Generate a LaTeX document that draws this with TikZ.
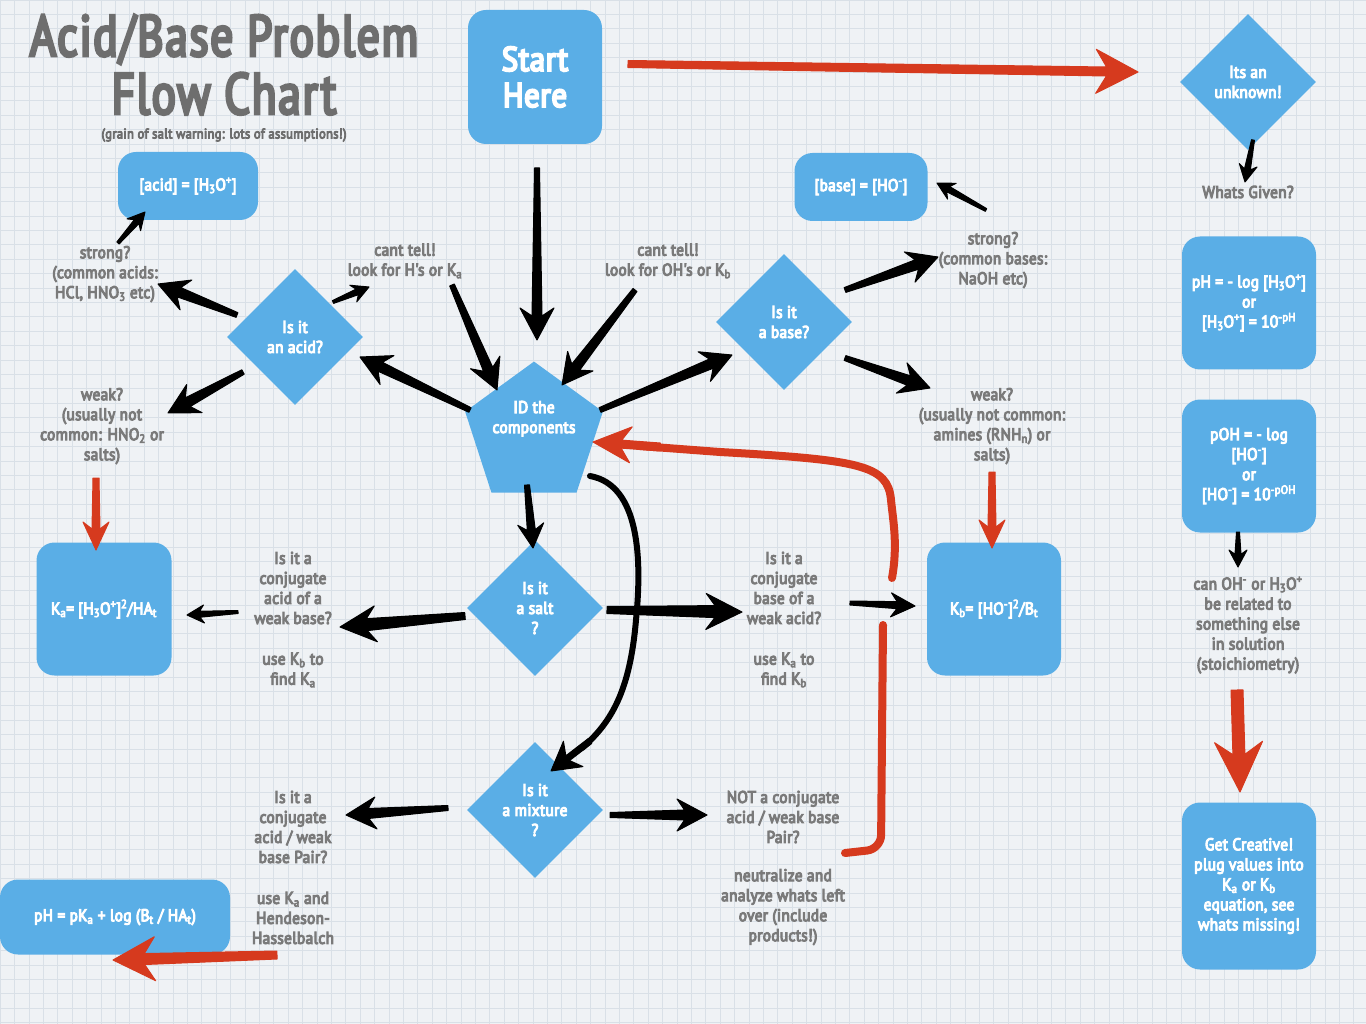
\documentclass[tikz,border=0pt]{standalone}
\usepackage{fontspec}
\setmainfont{PT Sans}[FakeStretch=0.92]
\newfontfamily\lblfont{PT Sans}[FakeStretch=0.9, FakeBold=6, LetterSpace=2]
\newfontfamily\titlefont{PT Sans}[FakeStretch=0.78, FakeBold=5, LetterSpace=3]
\usetikzlibrary{shapes.geometric,calc}
\definecolor{boxblue}{HTML}{5AAEE6}
\definecolor{txtgray}{HTML}{7A7A7A}
\definecolor{titlegray}{HTML}{6E6E6E}
\definecolor{arrred}{HTML}{D63A1E}
\definecolor{paper}{HTML}{EFF2F5}
\definecolor{gridc}{HTML}{D9E0E7}
\newcommand\tsub[1]{\textsubscript{#1}}
\newcommand\tsup[1]{\textsuperscript{#1}}
% tapered arrow: [colour]{from}{to}{tail half-width}{shaft half-width}{head length}{head half-width}
\newcommand\taper[7][black]{%
  \path #2 coordinate (tA) #3 coordinate (tB);
  \pgfpointdiff{\pgfpointanchor{tA}{center}}{\pgfpointanchor{tB}{center}}%
  \pgfgetlastxy\tdx\tdy
  \pgfmathsetmacro\tang{atan2(\tdy,\tdx)}%
  \pgfmathsetmacro\tlen{veclen(\tdx,\tdy)}%
  \begin{scope}[shift={(tA)}, rotate=\tang, x=1pt, y=1pt]
    \filldraw[#1, line width=1pt, line join=round] (0,-#4) -- (\tlen-0.75*#6,-#5) -- (\tlen-#6,-#7) -- (\tlen,0)
      -- (\tlen-#6,#7) -- (\tlen-0.75*#6,#5) -- (0,#4) -- cycle;
  \end{scope}}
\newcommand\bigarr[2]{\taper{#1}{#2}{2.5}{5}{30}{16}}
\newcommand\smallarr[2]{\taper{#1}{#2}{1.5}{3}{17}{9}}
\tikzset{
  box/.style={fill=boxblue, rounded corners=18pt, text=white, align=center, inner sep=0pt,
    font=\lblfont\fontsize{17}{20}\selectfont},
  dia/.style={diamond, aspect=1, fill=boxblue, minimum width=136pt, minimum height=136pt, inner sep=0pt,
    text=white, align=center, font=\lblfont\fontsize{17}{20}\selectfont},
  lbl/.style={text=txtgray, align=center, inner sep=0pt, font=\lblfont\fontsize{17}{20}\selectfont},
  redline/.style={draw=arrred, line width=8pt, line cap=round},
  ttl/.style={text=titlegray, inner sep=0pt, text depth=0pt, font=\titlefont\fontsize{58}{60}\selectfont},
}
\begin{document}
\begin{tikzpicture}[x=1pt, y=-1pt]
\useasboundingbox (0,0) rectangle (1366,1024);
\fill[paper] (0,0) rectangle (1366,1024);
\foreach \i in {0,...,95} \draw[gridc, line width=0.6pt] (\i*14.4,0) -- (\i*14.4,1024);
\foreach \j in {0,...,72} \draw[gridc, line width=0.6pt] (0,\j*14.4) -- (1366,\j*14.4);

% title
\node[ttl, anchor=base] (title1) at (224,56) {Acid/Base Problem};
\node[ttl, anchor=base] (title2) at (224,114) {Flow Chart};
\node[text=titlegray, inner sep=0pt, font=\lblfont\fontsize{14}{16}\selectfont] (subtitle) at (224,135) {(grain of salt warning: lots of assumptions!)};

% main nodes
\node[box, minimum width=134pt, minimum height=134pt, font=\lblfont\fontsize{34}{36}\selectfont] (start) at (535,77) {Start\\Here};
\node[dia] (unknown) at (1248,82) {Its an\\unknown!};
\node[lbl] (given) at (1248,192) {Whats Given?};
\node[box, minimum width=134pt, minimum height=133pt] (ph) at (1249,303) {pH = - log [H\tsub{3}O\tsup{+}]\\or\\{}[H\tsub{3}O\tsup{+}] = 10\tsup{-pH}};
\node[box, minimum width=134pt, minimum height=133pt] (poh) at (1249,466) {pOH = - log\\{}[HO\tsup{-}]\\or\\{}[HO\tsup{-}] = 10\tsup{-pOH}};
\node[lbl] (stoich) at (1248,625) {can OH\tsup{-} or H\tsub{3}O\tsup{+}\\be related to\\something else\\in solution\\(stoichiometry)};
\node[box, minimum width=134pt, minimum height=167pt] (creative) at (1249,886) {Get Creative!\\plug values into\\K\tsub{a} or K\tsub{b}\\equation, see\\whats missing!};

\node[box, minimum width=140pt, minimum height=68pt] (acidbox) at (188,186) {[acid] = [H\tsub{3}O\tsup{+}]};
\node[lbl] (strongA) at (105,274) {strong?\\(common acids:\\HCl, HNO\tsub{3} etc)};
\node[dia] (acidq) at (295,337) {Is it\\an acid?};
\node[lbl] (canttellA) at (405,261) {cant tell!\\look for H's or K\tsub{a}};
\node[lbl] (weakA) at (102,426) {weak?\\(usually not\\common: HNO\tsub{2} or\\salts)};
\node[box, minimum width=135pt, minimum height=133pt] (kabox) at (104,609) {K\tsub{a}= [H\tsub{3}O\tsup{+}]\tsup{2}/HA\tsub{t}};

\node[regular polygon, regular polygon sides=5, fill=boxblue, minimum size=134pt, inner sep=0pt,
  text=white, align=center, font=\lblfont\fontsize{17}{20}\selectfont] (pent) at (534,434) {ID the\\components\\[14pt]};

\node[lbl] (canttellB) at (668,261) {cant tell!\\look for OH's or K\tsub{b}};
\node[dia] (baseq) at (784,322) {Is it\\a base?};
\node[lbl] (strongB) at (993,260) {strong?\\(common bases:\\NaOH etc)};
\node[box, minimum width=133pt, minimum height=68pt] (basebox) at (861,187) {[base] = [HO\tsup{-}]};
\node[lbl] (weakB) at (992,426) {weak?\\(usually not common:\\amines (RNH\tsub{n}) or\\salts)};
\node[box, minimum width=134pt, minimum height=133pt] (kbbox) at (994,609) {K\tsub{b}= [HO\tsup{-}]\tsup{2}/B\tsub{t}};

\node[dia] (salt) at (535,608) {Is it\\a salt\\?};
\node[lbl] (conjA) at (293,588) {Is it a\\conjugate\\acid of a\\weak base?};
\node[lbl] (useKb) at (293,670) {use K\tsub{b} to\\find K\tsub{a}};
\node[lbl] (conjB) at (784,588) {Is it a\\conjugate\\base of a\\weak acid?};
\node[lbl] (useKa) at (784,670) {use K\tsub{a} to\\find K\tsub{b}};

\node[dia] (mix) at (535,810) {Is it\\a mixture\\?};
\node[lbl] (pairA) at (293,827) {Is it a\\conjugate\\acid / weak\\base Pair?};
\node[lbl] (useHH) at (293,918) {use K\tsub{a} and\\Hendeson-\\Hasselbalch};
\node[lbl] (notpair) at (783,817) {NOT a conjugate\\acid / weak base\\Pair?};
\node[lbl] (neutral) at (783,907) {neutralize and\\analyze whats left\\over (include\\products!)};
\node[box, minimum width=230pt, minimum height=75pt] (hhbox) at (115,917) {pH = pK\tsub{a} + log (B\tsub{t} / HA\tsub{t})};

% black arrows
\taper{($(start)+(2,91)$)}{($(pent)+(3,-94)$)}{2.5}{5}{32}{17}
\bigarr{($(canttellA)+(47,24)$)}{($(pent)+(-37,-44)$)}
\bigarr{($(canttellB)+(-33,29)$)}{($(pent)+(28,-49)$)}
\bigarr{($(pent)+(-64,-24)$)}{($(acidq)+(65,20)$)}
\bigarr{($(pent)+(66,-24)$)}{($(baseq)+(-52,33)$)}
\bigarr{($(acidq)+(-58,-22)$)}{($(strongA)+(53,10)$)}
\smallarr{($(acidq)+(38,-35)$)}{($(canttellA)+(-36,26)$)}
\bigarr{($(acidq)+(-52,35)$)}{($(weakA)+(66,-13)$)}
\smallarr{($(strongA)+(13,-31)$)}{($(acidbox)+(-43,26)$)}
\bigarr{($(baseq)+(61,-32)$)}{($(strongB)+(-55,-3)$)}
\smallarr{($(strongB)+(-7,-50)$)}{($(basebox)+(76,-4)$)}
\bigarr{($(baseq)+(61,36)$)}{($(weakB)+(-62,-38)$)}
\taper{($(pent)+(-7,51)$)}{($(salt)+(-2,-60)$)}{2.5}{4}{24}{13}
\taper{($(salt)+(-70,8)$)}{($(conjA)+(47,39)$)}{3.5}{6}{36}{18}
\smallarr{($(conjA)+(-55,24)$)}{($(kabox)+(83,6)$)}
\taper{($(salt)+(72,2)$)}{($(conjB)+(-42,24)$)}{3.5}{6}{36}{18}
\taper{($(conjB)+(66,15)$)}{($(kbbox)+(-79,-3)$)}{2}{3.5}{24}{12}
\bigarr{($(mix)+(-87,-2)$)}{($(pairA)+(53,-12)$)}
\bigarr{($(mix)+(75,5)$)}{($(notpair)+(-76,-2)$)}
\smallarr{($(unknown)+(5,58)$)}{($(given)+(-3,-10)$)}
\smallarr{($(poh)+(-11,66)$)}{($(stoich)+(-10,-58)$)}
% curved black connector to the mixture diamond
\draw[line width=6pt, line cap=round] ($(pent)+(56,42)$) .. controls (640,485) and (642,560) .. (636,620)
  .. controls (630,690) and (612,722) .. (582,748);
\taper{(590,741)}{($(mix)+(16,-39)$)}{3}{3}{28}{16}

% red arrows
\taper[arrred]{($(start)+(93,-13)$)}{($(unknown)+(-110,-10)$)}{3.5}{4.5}{42}{22}
\taper[arrred]{($(weakA)+(-6,52)$)}{($(kabox)+(-8,-59)$)}{3}{4}{28}{13}
\taper[arrred]{($(weakB)+(0,46)$)}{($(kbbox)+(-2,-61)$)}{3}{4}{28}{13}
\taper[arrred]{($(stoich)+(-11,65)$)}{($(creative)+(-9,-94)$)}{6}{6}{50}{24}
\taper[arrred]{($(useHH)+(-16,37)$)}{($(hhbox)+(-2,43)$)}{4}{5.5}{42}{22}
% red loop back to the components pentagon
\draw[redline, rounded corners=14pt] ($(notpair)+(62,36)$) -- (881,849) -- (883,625);
\draw[redline] (892,578) .. controls (898,545) and (893,520) .. (891,500)
  .. controls (888,465) and (860,460) .. (720,452) -- (640,446);
\taper[arrred]{(660,447)}{($(pent)+(59,8)$)}{4}{4}{38}{18}
\end{tikzpicture}
\end{document}
